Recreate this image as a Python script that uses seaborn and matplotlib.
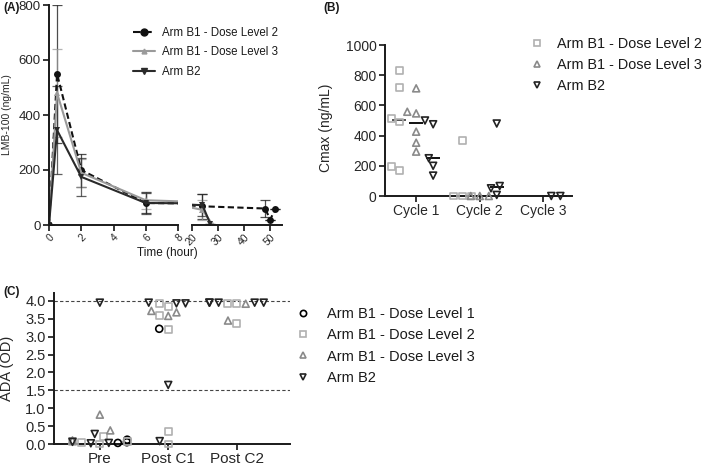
import numpy as np
import pandas as pd
import matplotlib
matplotlib.use("Agg")
import matplotlib.pyplot as plt
from matplotlib.lines import Line2D
from matplotlib.markers import MarkerStyle
from matplotlib.colors import to_rgba
import seaborn as sns

# ---- (A) LMB-100 concentration over time, mean and SD
arm_dl1 = "Arm B1 - Dose Level 1"
arm_dl2 = "Arm B1 - Dose Level 2"
arm_dl3 = "Arm B1 - Dose Level 3"
arm_b2 = "Arm B2"

time_dl2 = [0, 0.5, 2, 6, 24, 48, 50, 52]
conc_dl2 = [0, 550, 200, 80, 68, 60, 20, 60]
sd_dl2 = [0, 250, 60, 35, 45, 30, 0, 0]

time_dl3 = [0, 0.5, 2, 6, 24, 28]
conc_dl3 = [0, 480, 190, 90, 55, 0]
sd_dl3 = [0, 160, 50, 30, 35, 0]

time_b2 = [0, 0.5, 2, 6, 24, 27]
conc_b2 = [0, 345, 175, 80, 72, 5]
sd_b2 = [0, 160, 70, 40, 40, 0]

# ---- (B) Cmax per cycle
cycles = ["Cycle 1", "Cycle 2", "Cycle 3"]
cmax_dl2_c1 = [830, 720, 515, 490, 195, 170]
cmax_dl2_c2 = [370, 0, 0, 0]
cmax_dl3_c1 = [713, 558, 547, 426, 353, 294]
cmax_dl3_c2 = [0, 0, 0]
cmax_b2_c1 = [500, 475, 250, 200, 135]
cmax_b2_c2 = [480, 66, 51, 7]
cmax_b2_c3 = [0, 0]

# ---- (C) ADA optical density
phases = ["Pre", "Post C1", "Post C2"]
ada_dl1_pre = [0.12, 0.05, 0.03]
ada_dl1_c1 = [3.22]
ada_dl2_pre = [0.08, 0.0, 0.22, 0.05, 0.06]
ada_dl2_c1 = [3.92, 3.2, 3.83, 3.6, 0.35, 0.0]
ada_dl2_c2 = [3.38, 3.92, 3.92]
ada_dl3_pre = [0.82, 0.38, 0.1]
ada_dl3_c1 = [3.72, 3.58, 3.68]
ada_dl3_c2 = [3.45, 3.92]
ada_b2_pre = [3.95, 0.28, 0.03, 0.02, 0.06]
ada_b2_c1 = [3.93, 3.93, 3.95, 1.65, 0.08]
ada_b2_c2 = [3.95, 3.95, 3.95, 3.95, 3.95]
ada_cutoffs = [4.0, 1.5]

colors = {arm_dl1: "#000000", arm_dl2: "#b0b0b0", arm_dl3: "#8a8a8a", arm_b2: "#222222"}
markers = {arm_dl1: "o", arm_dl2: "s", arm_dl3: "^", arm_b2: "v"}


def long_df(cat_col, val_col, groups):
    rows = []
    for arm, cat, vals in groups:
        for v in vals:
            rows.append({"arm": arm, cat_col: cat, val_col: v})
    return pd.DataFrame(rows)


def hollow(ax, palette, lw=1.2):
    # give every swarm point the open marker of its arm (matched by colour)
    keys = list(palette)
    refs = np.array([to_rgba(palette[k]) for k in keys])
    for coll in ax.collections:
        fc = coll.get_facecolors()
        if len(fc) == 0:
            continue
        paths, edges = [], []
        for c in fc:
            k = keys[int(np.argmin(np.abs(refs - c).sum(axis=1)))]
            ms = MarkerStyle(markers[k])
            paths.append(ms.get_path().transformed(ms.get_transform()))
            edges.append(palette[k])
        coll.set_paths(paths)
        coll.set_facecolors("none")
        coll.set_edgecolors(edges)
        coll.set_linewidths(lw)
        coll.set_clip_on(False)


sns.set_theme(style="ticks")
plt.rcParams["font.family"] = ["Liberation Sans", "DejaVu Sans"]
plt.rcParams["axes.linewidth"] = 1.4
plt.rcParams["axes.edgecolor"] = "#1a1a1a"
plt.rcParams["xtick.major.width"] = 1.3
plt.rcParams["ytick.major.width"] = 1.3
plt.rcParams["xtick.major.size"] = 4
plt.rcParams["ytick.major.size"] = 4
plt.rcParams["text.color"] = "#1a1a1a"

W, H = 709, 466
fig = plt.figure(figsize=(W / 100, H / 100), dpi=100)


def rect(x0, y0, x1, y1):
    return [x0 / W, 1 - y1 / H, (x1 - x0) / W, (y1 - y0) / H]


axA1 = fig.add_axes(rect(49, 5, 178, 225))
axA2 = fig.add_axes(rect(192, 5, 282, 225), sharey=axA1)
axB = fig.add_axes(rect(385, 45, 572, 196))
axC = fig.add_axes(rect(54, 293, 290, 444))

# ---------------- panel A
dfA = pd.concat([
    pd.DataFrame({"arm": arm_dl2, "time": time_dl2, "conc": conc_dl2, "sd": sd_dl2}),
    pd.DataFrame({"arm": arm_dl3, "time": time_dl3, "conc": conc_dl3, "sd": sd_dl3}),
    pd.DataFrame({"arm": arm_b2, "time": time_b2, "conc": conc_b2, "sd": sd_b2}),
], ignore_index=True)
arms_a = [arm_dl2, arm_dl3, arm_b2]
line_col = {arm_dl2: "#111111", arm_dl3: "#9a9a9a", arm_b2: "#2a2a2a"}
line_mk = {arm_dl2: "o", arm_dl3: "^", arm_b2: "v"}
line_dash = {arm_dl2: (3, 1.6), arm_dl3: "", arm_b2: ""}
line_ms = {arm_dl2: 5, arm_dl3: 3.5, arm_b2: 5}

for ax in (axA1, axA2):
    for arm in arms_a:
        d = dfA[dfA["arm"] == arm]
        ax.errorbar(d["time"], d["conc"], yerr=d["sd"], fmt="none",
                    ecolor=line_col[arm], elinewidth=0.9, capsize=3.5,
                    capthick=0.9, alpha=0.75)
    sns.lineplot(data=dfA, x="time", y="conc", hue="arm", style="arm",
                 hue_order=arms_a, style_order=arms_a, palette=line_col,
                 markers=line_mk, dashes=line_dash, linewidth=1.5,
                 markersize=5, markeredgewidth=0, legend=False, ax=ax,
                 errorbar=None)

axA1.set_xlim(0, 8)
axA2.set_xlim(20, 54.5)
axA1.set_ylim(0, 800)
axA1.set_yticks([0, 200, 400, 600, 800])
axA1.set_xticks([0, 2, 4, 6, 8])
axA2.set_xticks([20, 30, 40, 50])
axA1.set_xlabel("")
axA2.set_xlabel("")
axA2.set_ylabel("")
axA1.set_ylabel("LMB-100 (ng/mL)", fontsize=7.5)
axA1.yaxis.set_label_coords(-0.29, 0.5)
axA1.tick_params(axis="y", labelsize=9.5, pad=2)
for ax in (axA1, axA2):
    ax.tick_params(axis="x", labelsize=7.5, labelrotation=45, pad=1)
    for lab in ax.get_xticklabels():
        lab.set_ha("right")
        lab.set_rotation_mode("anchor")
    sns.despine(ax=ax)
axA2.spines["left"].set_visible(False)
axA2.tick_params(axis="y", left=False, labelleft=False)
fig.text(167 / W, 1 - 253 / H, "Time (hour)", fontsize=8.5, ha="center", va="center")

handles_a = [Line2D([], [], color=line_col[a], marker=line_mk[a], markersize=line_ms[a],
                    linestyle="--" if a == arm_dl2 else "-", linewidth=1.5)
             for a in arms_a]
fig.legend(handles_a, arms_a, loc="upper left", bbox_to_anchor=(133 / W, 1 - 27 / H),
           frameon=False, fontsize=8.3, handlelength=1.9, handletextpad=0.6,
           labelspacing=0.65, borderpad=0, borderaxespad=0)

# ---------------- panel B
arms_b = [arm_dl2, arm_dl3, arm_b2]
dfB = long_df("cycle", "cmax", [
    (arm_dl2, "Cycle 1", cmax_dl2_c1), (arm_dl2, "Cycle 2", cmax_dl2_c2),
    (arm_dl3, "Cycle 1", cmax_dl3_c1), (arm_dl3, "Cycle 2", cmax_dl3_c2),
    (arm_b2, "Cycle 1", cmax_b2_c1), (arm_b2, "Cycle 2", cmax_b2_c2),
    (arm_b2, "Cycle 3", cmax_b2_c3),
])
pal_b = {a: colors[a] for a in arms_b}
sns.swarmplot(data=dfB, x="cycle", y="cmax", hue="arm", order=cycles,
              hue_order=arms_b, palette=pal_b, dodge=True, size=5,
              legend=False, warn_thresh=1, ax=axB)
hollow(axB, pal_b)
median_pal = {arm_dl2: "#555555", arm_dl3: "#111111", arm_b2: "#111111"}
sns.pointplot(data=dfB, x="cycle", y="cmax", hue="arm", order=cycles,
              hue_order=arms_b, palette=median_pal, estimator="median",
              errorbar=None, dodge=0.534, marker="_", linestyle="none",
              markersize=10, markeredgewidth=1.4, legend=False, ax=axB)
axB.set_xlim(-0.49, 2.45)
axB.set_ylim(0, 1000)
axB.set_yticks([0, 200, 400, 600, 800, 1000])
axB.set_xlabel("")
axB.set_ylabel("Cmax (ng/mL)", fontsize=10)
axB.yaxis.set_label_coords(-0.28, 0.45)
axB.tick_params(labelsize=10, pad=2)
sns.despine(ax=axB)

handles_b = [Line2D([], [], marker=markers[a], linestyle="none", markerfacecolor="none",
                    markeredgecolor=colors[a], markeredgewidth=1.2, markersize=4.5)
             for a in arms_b]
fig.legend(handles_b, arms_b, loc="upper left", bbox_to_anchor=(530 / W, 1 - 37 / H),
           frameon=False, fontsize=10.4, handlelength=1.0, handletextpad=0.9,
           labelspacing=0.5, borderpad=0, borderaxespad=0)

# ---------------- panel C
arms_c = [arm_dl1, arm_dl2, arm_dl3, arm_b2]
dfC = long_df("phase", "ada", [
    (arm_dl1, "Pre", ada_dl1_pre), (arm_dl1, "Post C1", ada_dl1_c1),
    (arm_dl2, "Pre", ada_dl2_pre), (arm_dl2, "Post C1", ada_dl2_c1),
    (arm_dl2, "Post C2", ada_dl2_c2),
    (arm_dl3, "Pre", ada_dl3_pre), (arm_dl3, "Post C1", ada_dl3_c1),
    (arm_dl3, "Post C2", ada_dl3_c2),
    (arm_b2, "Pre", ada_b2_pre), (arm_b2, "Post C1", ada_b2_c1),
    (arm_b2, "Post C2", ada_b2_c2),
])
pal_c = {a: colors[a] for a in arms_c}
for y in ada_cutoffs:
    axC.axhline(y, color="#444444", linestyle=(0, (3, 2)), linewidth=0.8, zorder=0)
sns.swarmplot(data=dfC, x="phase", y="ada", hue="arm", order=phases,
              hue_order=arms_c, palette=pal_c, size=5, legend=False,
              warn_thresh=1, ax=axC)
hollow(axC, pal_c)
axC.set_xlim(-0.67, 2.78)
axC.set_ylim(0, 4.22)
axC.set_yticks(np.arange(0, 4.01, 0.5))
axC.yaxis.set_major_formatter(matplotlib.ticker.FormatStrFormatter("%.1f"))
axC.set_xlabel("")
axC.set_ylabel("ADA (OD)", fontsize=10.5)
axC.yaxis.set_label_coords(-0.17, 0.5)
axC.tick_params(axis="y", labelsize=10.5, pad=2)
axC.tick_params(axis="x", labelsize=11, pad=2)
sns.despine(ax=axC)

handles_c = [Line2D([], [], marker=markers[a], linestyle="none", markerfacecolor="none",
                    markeredgecolor=colors[a], markeredgewidth=1.2, markersize=4.5)
             for a in arms_c]
fig.legend(handles_c, arms_c, loc="upper left", bbox_to_anchor=(296 / W, 1 - 307 / H),
           frameon=False, fontsize=10.5, handlelength=1.0, handletextpad=1.1,
           labelspacing=0.5, borderpad=0, borderaxespad=0)

# panel letters
fig.text(3 / W, 1 - 8 / H, "(A)", fontsize=8.5, fontweight="bold", va="center")
fig.text(323 / W, 1 - 8 / H, "(B)", fontsize=8.5, fontweight="bold", va="center")
fig.text(3 / W, 1 - 292 / H, "(C)", fontsize=8.5, fontweight="bold", va="center")

fig.savefig("out.png", dpi=100)
